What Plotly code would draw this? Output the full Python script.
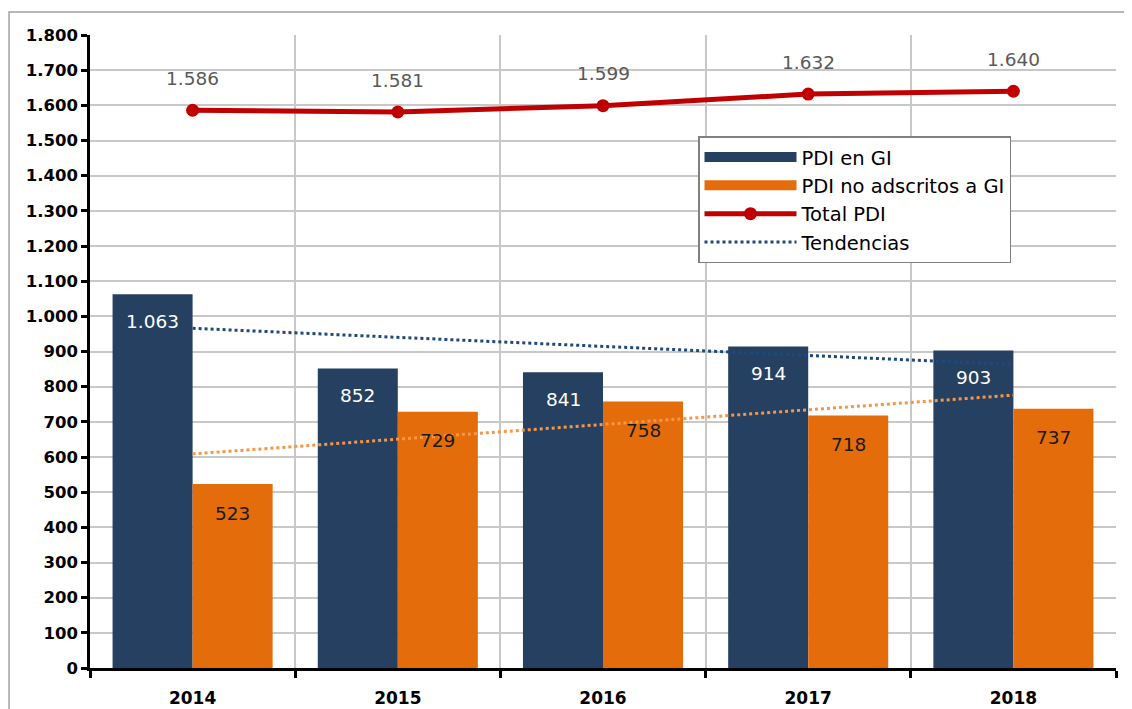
import plotly.graph_objects as go

years = ["2014", "2015", "2016", "2017", "2018"]
pdi_gi = [1063, 852, 841, 914, 903]
pdi_no_gi = [523, 729, 758, 718, 737]
total_pdi = [1586, 1581, 1599, 1632, 1640]
trend_years = ["2014", "2018"]
trend_gi = [966, 863]
trend_no_gi = [609, 776]
y_ticks = list(range(0, 1900, 100))

BLUE = "#264061"
ORANGE = "#E46C0A"
RED = "#C00000"
FONT = "DejaVu Sans"

fig = go.Figure()
fig.add_trace(go.Bar(x=years, y=pdi_gi, name="PDI en GI", showlegend=False,
                     marker=dict(color=BLUE, line=dict(width=0))))
fig.add_trace(go.Bar(x=years, y=pdi_no_gi, name="PDI no adscritos a GI", showlegend=False,
                     marker=dict(color=ORANGE, line=dict(width=0))))
fig.add_trace(go.Scatter(x=years, y=total_pdi, name="Total PDI", mode="lines+markers", showlegend=False,
                         line=dict(color=RED, width=5), marker=dict(color=RED, size=13)))
fig.add_trace(go.Scatter(x=trend_years, y=trend_gi, name="Tendencias", mode="lines", showlegend=False,
                         line=dict(color="#1F497D", width=3, dash="dot")))
fig.add_trace(go.Scatter(x=trend_years, y=trend_no_gi, name="Tendencia 2", mode="lines", showlegend=False,
                         line=dict(color="#F79646", width=3, dash="dot")))

# legend entries (Excel-style swatches)
fig.add_trace(go.Scatter(x=[None], y=[None], name="PDI en GI", mode="lines", line=dict(color=BLUE, width=14)))
fig.add_trace(go.Scatter(x=[None], y=[None], name="PDI no adscritos a GI", mode="lines", line=dict(color=ORANGE, width=14)))
fig.add_trace(go.Scatter(x=[None], y=[None], name="Total PDI", mode="lines+markers",
                         line=dict(color=RED, width=5), marker=dict(color=RED, size=13)))
fig.add_trace(go.Scatter(x=[None], y=[None], name="Tendencias", mode="lines",
                         line=dict(color="#1F497D", width=3, dash="dot")))

def fmt(v):
    return f"{v:,}".replace(",", ".")

annotations = []
for i, v in enumerate(pdi_gi):
    annotations.append(dict(x=i, y=v, xref="x", yref="y", text=fmt(v), showarrow=False, xshift=-40, yshift=-27,
                            font=dict(family=FONT, size=18.5, color="white"), yanchor="middle"))
for i, v in enumerate(pdi_no_gi):
    annotations.append(dict(x=i, y=v, xref="x", yref="y", text=fmt(v), showarrow=False, xshift=40, yshift=-29,
                            font=dict(family=FONT, size=18.5, color="#1a1a1a"), yanchor="middle"))
for i, v in enumerate(total_pdi):
    annotations.append(dict(x=i, y=v, xref="x", yref="y", text=fmt(v), showarrow=False, yshift=32,
                            font=dict(family=FONT, size=18.5, color="#595959"), yanchor="middle"))

fig.update_layout(
    width=1132, height=709,
    margin=dict(l=82, r=24, t=27, b=49),
    paper_bgcolor="white", plot_bgcolor="white",
    separators=",.",
    barmode="group", bargap=0.22, bargroupgap=0,
    font=dict(family=FONT, color="black"),
    annotations=annotations,
    legend=dict(x=0.5926, y=0.84, xanchor="left", yanchor="top",
                bordercolor="#808080", borderwidth=1.5, bgcolor="white",
                font=dict(family=FONT, size=19.5, color="black"),
                itemwidth=92, tracegroupgap=0),
    xaxis=dict(type="category", tickson="boundaries", ticks="outside", ticklen=7, tickwidth=2.5,
               tickcolor="black", showline=True, linecolor="black", linewidth=2.5,
               showgrid=True, gridcolor="#C8C8C8", gridwidth=2, automargin=False,
               tickfont=dict(family=FONT, size=17, color="black", weight="bold"),
               ticklabelstandoff=13, range=[-0.5, 4.5]),
    yaxis=dict(range=[0, 1800], tickvals=y_ticks, tickformat=",d", ticks="outside", ticklen=6,
               tickwidth=2.5, tickcolor="black", showline=True, linecolor="black", linewidth=2.5,
               showgrid=True, gridcolor="#C8C8C8", gridwidth=2, zeroline=False, automargin=False,
               tickfont=dict(family=FONT, size=16.5, color="black", weight="bold")),
    shapes=[dict(type="path", xref="paper", yref="paper",
                 path="M -0.0789,-0.3 L -0.0789,1.0363 L 1.3,1.0363",
                 line=dict(color="#A0A0A0", width=1.5), layer="below")],
)

fig.write_html("out.html")
